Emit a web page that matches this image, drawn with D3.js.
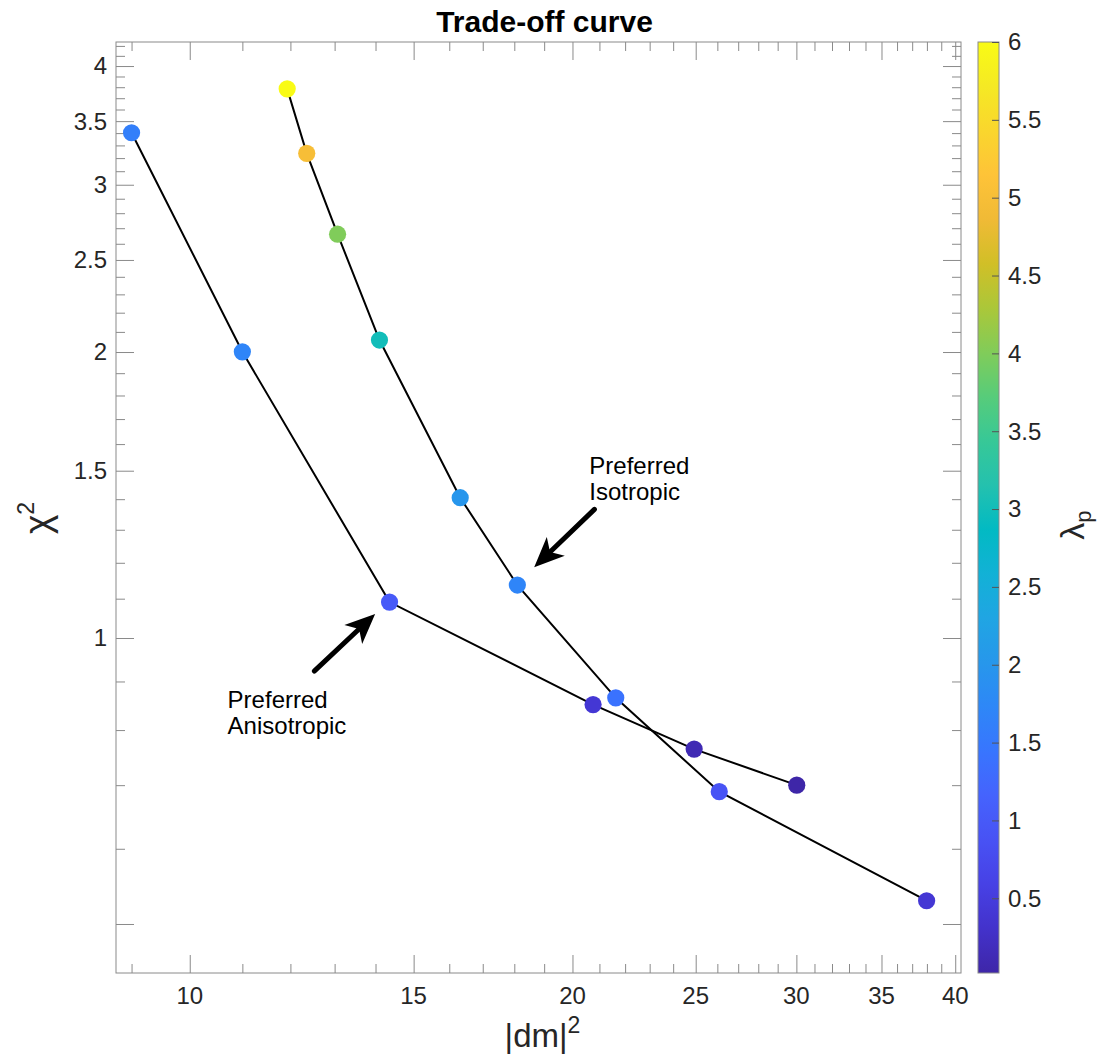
<!DOCTYPE html>
<html>
<head>
<meta charset="utf-8">
<script src="https://cdn.jsdelivr.net/npm/d3@7"></script>
<style>
  html, body { margin: 0; padding: 0; background: #fff; }
  svg { display: block; font-family: "Liberation Sans", Arial, Helvetica, sans-serif; }
</style>
</head>
<body>
<svg id="chart" width="1102" height="1063"></svg>
<script>
// Isotropic inversion: model norm |dm|^2, misfit chi^2, regularisation weight lambda_p
const isoDm     = [11.93, 12.36, 13.07, 14.10, 16.32, 18.10, 21.63, 26.09, 37.98];
const isoChi    = [3.785, 3.237, 2.661, 2.059, 1.405, 1.137, 0.865, 0.689, 0.529];
const isoLambda = [6.0, 5.0, 4.0, 3.0, 2.0, 1.7, 1.4, 0.9, 0.4];

// Anisotropic inversion
const anisoDm     = [9.00, 11.00, 14.36, 20.76, 24.93, 30.02];
const anisoChi    = [3.403, 2.001, 1.091, 0.851, 0.764, 0.700];
const anisoLambda = [1.6, 1.7, 1.0, 0.4, 0.12, 0.02];

// Axis ticks
const xTickValues = [10, 15, 20, 25, 30, 35, 40];
const xTickLabels = ["10", "15", "20", "25", "30", "35", "40"];
const yTickValues = [0.5, 1, 1.5, 2, 2.5, 3, 3.5, 4];
const yTickLabels = ["", "1", "1.5", "2", "2.5", "3", "3.5", "4"];
const cTickValues = [0.5, 1, 1.5, 2, 2.5, 3, 3.5, 4, 4.5, 5, 5.5, 6];
const cTickLabels = ["0.5", "1", "1.5", "2", "2.5", "3", "3.5", "4", "4.5", "5", "5.5", "6"];

// Annotations (anchored in data coordinates)
const notes = [
  { lines: ["Preferred", "Isotropic"],   textAt: [20.62, 1.488], tail: [20.81, 1.366], tip: [18.66, 1.187] },
  { lines: ["Preferred", "Anisotropic"], textAt: [10.71, 0.843], tail: [12.53, 0.923], tip: [13.99, 1.060] }
];

// parula colour map (sampled)
const parula = [
  [0.2422,0.1504,0.6603],[0.2647,0.1978,0.7952],[0.2783,0.2559,0.8991],[0.2810,0.3228,0.9579],
  [0.2699,0.3892,0.9906],[0.2206,0.4603,0.9973],[0.1786,0.5289,0.9682],[0.1540,0.5902,0.9218],
  [0.1248,0.6459,0.8883],[0.0689,0.6948,0.8394],[0.0067,0.7312,0.7660],[0.1408,0.7584,0.6842],
  [0.2161,0.7843,0.5923],[0.3406,0.8008,0.4789],[0.5044,0.7993,0.3480],[0.6720,0.7793,0.2227],
  [0.8203,0.7498,0.1535],[0.9393,0.7288,0.2100],[0.9970,0.7659,0.2199],[0.9786,0.8386,0.1766],
  [0.9597,0.9135,0.1423],[0.9769,0.9839,0.0805]
].map(c => d3.rgb(c[0] * 255, c[1] * 255, c[2] * 255).formatHex());
const parulaInterp = d3.piecewise(d3.interpolateRgb, parula);

const svg = d3.select("#chart");
const plot = { left: 116, top: 42, right: 961, bottom: 973 };
const axisColor = "#8a8a8a";
const textColor = "#262626";
const tickFont = 24;

const x = d3.scaleLog().domain([8.75, 40.42]).range([plot.left, plot.right]);
const y = d3.scaleLog().domain([0.444, 4.24]).range([plot.bottom, plot.top]);
const allLambda = isoLambda.concat(anisoLambda);
const cExtent = d3.extent(allLambda);
const color = d3.scaleSequential(parulaInterp).domain(cExtent);

// Minor tick positions (every integer / every 0.1 inside the visible range)
const xMinor = d3.range(9, 41).filter(v => !xTickValues.includes(v));
const yMinor = d3.range(5, 43).map(v => v / 10).filter(v => !yTickValues.includes(v));

const W = plot.right - plot.left, H = plot.bottom - plot.top;

// Frame
svg.append("rect")
  .attr("x", plot.left).attr("y", plot.top).attr("width", W).attr("height", H)
  .attr("fill", "none").attr("stroke", axisColor).attr("stroke-width", 1);

// Inward ticks on all four sides via d3 axes
function xAxisGroup(values, len, isBottom) {
  const ax = (isBottom ? d3.axisBottom(x) : d3.axisTop(x))
    .tickValues(values).tickSize(-len).tickFormat("");
  const g = svg.append("g")
    .attr("transform", `translate(0,${isBottom ? plot.bottom : plot.top})`).call(ax);
  g.select(".domain").remove();
  g.selectAll("line").attr("stroke", axisColor);
}
function yAxisGroup(values, len, isLeft) {
  const ax = (isLeft ? d3.axisLeft(y) : d3.axisRight(y))
    .tickValues(values).tickSize(-len).tickFormat("");
  const g = svg.append("g")
    .attr("transform", `translate(${isLeft ? plot.left : plot.right},0)`).call(ax);
  g.select(".domain").remove();
  g.selectAll("line").attr("stroke", axisColor);
}
[true, false].forEach(side => {
  xAxisGroup(xTickValues, 18, side);
  xAxisGroup(xMinor, 9, side);
  yAxisGroup(yTickValues, 18, side);
  yAxisGroup(yMinor, 9, side);
});

// Tick labels
svg.append("g").selectAll("text").data(xTickValues).join("text")
  .attr("x", d => x(d)).attr("y", plot.bottom + 31)
  .attr("text-anchor", "middle").attr("font-size", tickFont).attr("fill", textColor)
  .text((d, i) => xTickLabels[i]);
svg.append("g").selectAll("text").data(yTickValues).join("text")
  .attr("x", plot.left - 9).attr("y", d => y(d)).attr("dy", "0.35em")
  .attr("text-anchor", "end").attr("font-size", tickFont).attr("fill", textColor)
  .text((d, i) => yTickLabels[i]);

// Axis titles
const xl = svg.append("text").attr("x", (plot.left + plot.right) / 2 + 4).attr("y", 1047)
  .attr("text-anchor", "middle").attr("font-size", 33).attr("fill", textColor);
xl.append("tspan").text("|dm|");
xl.append("tspan").attr("font-size", 23).attr("dy", -14).text("2");

const yl = svg.append("text").attr("transform", "translate(50,518) rotate(-90)")
  .attr("text-anchor", "middle").attr("font-size", 37).attr("fill", textColor);
yl.append("tspan").text("χ");
yl.append("tspan").attr("font-size", 23).attr("dy", -16).text("2");

// Title
svg.append("text").attr("x", (plot.left + plot.right) / 2 + 6).attr("y", 32)
  .attr("text-anchor", "middle").attr("font-size", 30).attr("font-weight", "bold")
  .attr("fill", "#000").text("Trade-off curve");

// Curves
const line = d3.line().x(d => x(d[0])).y(d => y(d[1]));
const series = [
  { dm: isoDm, chi: isoChi, lam: isoLambda },
  { dm: anisoDm, chi: anisoChi, lam: anisoLambda }
];
series.forEach(s => {
  const pts = s.dm.map((d, i) => [d, s.chi[i], s.lam[i]]);
  svg.append("path").datum(pts).attr("d", line)
    .attr("fill", "none").attr("stroke", "#000").attr("stroke-width", 2);
});
series.forEach(s => {
  const pts = s.dm.map((d, i) => [d, s.chi[i], s.lam[i]]);
  svg.append("g").selectAll("circle").data(pts).join("circle")
    .attr("cx", d => x(d[0])).attr("cy", d => y(d[1])).attr("r", 8.6)
    .attr("fill", d => color(d[2]));
});

// Annotation arrows and text
notes.forEach(n => {
  const [x0, y0] = [x(n.tail[0]), y(n.tail[1])];
  const [x1, y1] = [x(n.tip[0]), y(n.tip[1])];
  const dx = x1 - x0, dy = y1 - y0, L = Math.hypot(dx, dy);
  const ux = dx / L, uy = dy / L, px = -uy, py = ux;
  const headLen = 30, notch = 22, half = 13;
  svg.append("line")
    .attr("x1", x0).attr("y1", y0)
    .attr("x2", x1 - ux * notch).attr("y2", y1 - uy * notch)
    .attr("stroke", "#000").attr("stroke-width", 5).attr("stroke-linecap", "round");
  const head = [
    [x1, y1],
    [x1 - ux * headLen + px * half, y1 - uy * headLen + py * half],
    [x1 - ux * notch, y1 - uy * notch],
    [x1 - ux * headLen - px * half, y1 - uy * headLen - py * half]
  ];
  svg.append("polygon").attr("points", head.map(p => p.join(",")).join(" ")).attr("fill", "#000");
  const t = svg.append("text").attr("x", x(n.textAt[0])).attr("y", y(n.textAt[1]))
    .attr("font-size", 24).attr("fill", "#000");
  n.lines.forEach((s, i) => {
    t.append("tspan").attr("x", x(n.textAt[0])).attr("dy", i === 0 ? 0 : 26).text(s);
  });
});

// Colour bar
const cb = { left: 978, right: 999, top: plot.top, bottom: plot.bottom };
const cScale = d3.scaleLinear().domain(cExtent).range([cb.bottom, cb.top]);
const grad = svg.append("defs").append("linearGradient").attr("id", "parulaGrad")
  .attr("x1", 0).attr("y1", 1).attr("x2", 0).attr("y2", 0);
parula.forEach((c, i) => {
  grad.append("stop").attr("offset", i / (parula.length - 1)).attr("stop-color", c);
});
svg.append("rect").attr("x", cb.left).attr("y", cb.top)
  .attr("width", cb.right - cb.left).attr("height", cb.bottom - cb.top)
  .attr("fill", "url(#parulaGrad)").attr("stroke", axisColor).attr("stroke-width", 1);
const cAxis = d3.axisRight(cScale).tickValues(cTickValues).tickSize(-7).tickFormat("");
const cg = svg.append("g").attr("transform", `translate(${cb.right},0)`).call(cAxis);
cg.select(".domain").remove();
cg.selectAll("line").attr("stroke", "#555");
svg.append("g").selectAll("text").data(cTickValues).join("text")
  .attr("x", cb.right + 9).attr("y", d => cScale(d)).attr("dy", "0.35em")
  .attr("font-size", tickFont).attr("fill", textColor)
  .text((d, i) => cTickLabels[i]);

const cl = svg.append("text").attr("transform", "translate(1084,525) rotate(-90)")
  .attr("text-anchor", "middle").attr("font-size", 34).attr("fill", textColor);
cl.append("tspan").text("λ");
cl.append("tspan").attr("font-size", 22).attr("dy", 7).text("p");
</script>
</body>
</html>
